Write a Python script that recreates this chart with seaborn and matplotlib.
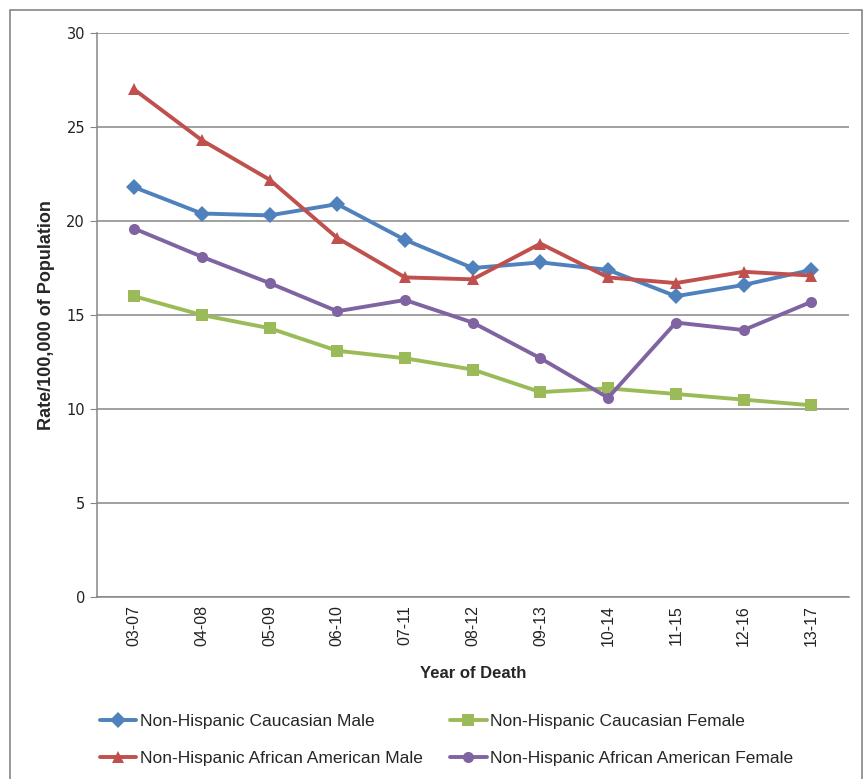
import numpy as np
import pandas as pd
import seaborn as sns
import matplotlib.pyplot as plt
from matplotlib.patches import Rectangle

# --- 数据 ---
periods = ['03-07', '04-08', '05-09', '06-10', '07-11', '08-12',
           '09-13', '10-14', '11-15', '12-16', '13-17']
cauc_male = [21.8, 20.4, 20.3, 20.9, 19.0, 17.5, 17.8, 17.4, 16.0, 16.6, 17.4]
cauc_female = [16.0, 15.0, 14.3, 13.1, 12.7, 12.1, 10.9, 11.1, 10.8, 10.5, 10.2]
aa_male = [27.0, 24.3, 22.2, 19.1, 17.0, 16.9, 18.8, 17.0, 16.7, 17.3, 17.1]
aa_female = [19.6, 18.1, 16.7, 15.2, 15.8, 14.6, 12.7, 10.6, 14.6, 14.2, 15.7]

series_names = ['Non-Hispanic Caucasian Male', 'Non-Hispanic African American Male',
                'Non-Hispanic Caucasian Female', 'Non-Hispanic African American Female']
series_vals = [cauc_male, aa_male, cauc_female, aa_female]
colors = ['#4F81BD', '#C0504D', '#9BBB59', '#8064A2']
markers = ['D', '^', 's', 'o']

df = pd.concat([pd.DataFrame({'period': periods, 'rate': v, 'group': n})
                for n, v in zip(series_names, series_vals)], ignore_index=True)

sns.set_style('white')
plt.rcParams['font.family'] = ['Liberation Sans Narrow', 'Liberation Sans', 'DejaVu Sans']

fig = plt.figure(figsize=(8.65, 7.79), dpi=100)
ax = fig.add_axes([0.112, 0.2336, 0.869, 0.724])

sns.lineplot(data=df, x='period', y='rate', hue='group', style='group',
             hue_order=series_names, style_order=series_names,
             palette=dict(zip(series_names, colors)),
             markers=dict(zip(series_names, markers)), dashes=False,
             sort=False, linewidth=2.8, markersize=8, markeredgewidth=0,
             ax=ax)

ax.set_xlim(-0.55, 10.55)
ax.set_ylim(0, 30)
ax.set_yticks(np.arange(0, 31, 5))
ax.yaxis.grid(True, color='#868686', linewidth=1.1)
ax.set_axisbelow(True)
for s in ['top', 'right']:
    ax.spines[s].set_visible(False)
for s in ['left', 'bottom']:
    ax.spines[s].set_color('#868686')
    ax.spines[s].set_linewidth(1.1)
ax.tick_params(axis='y', direction='out', length=5, color='#868686', labelsize=11.5,
               labelcolor='#222222', left=True)
ax.tick_params(axis='x', rotation=90, labelsize=11.5, labelcolor='#222222', length=0, pad=6)
for lab in ax.get_yticklabels():
    lab.set_fontfamily(['DejaVu Sans'])
    lab.set_fontsize(10.5)

ax.set_xlabel('Year of Death', fontsize=12, fontweight='bold', labelpad=14)
ax.set_ylabel('Rate/100,000 of Population', fontsize=13, fontweight='bold', labelpad=8)

ax.legend(loc='upper center', bbox_to_anchor=(0.465, -0.18), ncol=2, frameon=False,
          fontsize=12.5, handlelength=2.1, columnspacing=1.6, labelspacing=1.25,
          handletextpad=0.2)

# 外边框
fig.patches.append(Rectangle((0.012, -0.1), 0.985, 1.087, transform=fig.transFigure,
                             fill=False, edgecolor='#868686', linewidth=1.2))

fig.savefig('out.png', dpi=100)
